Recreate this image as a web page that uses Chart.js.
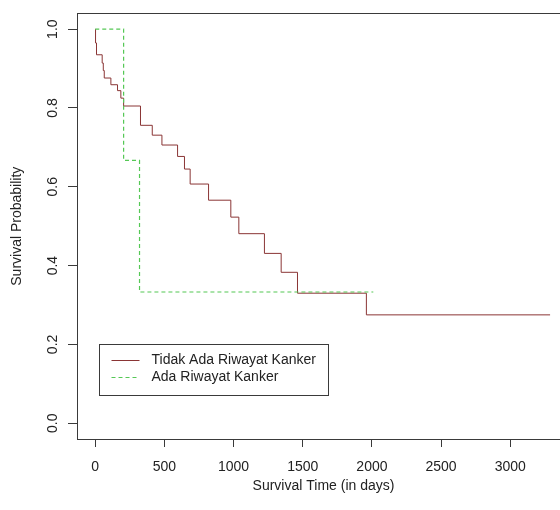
<!DOCTYPE html>
<html>
<head>
<meta charset="utf-8">
<title>Kaplan-Meier: Riwayat Kanker</title>
<script src="https://cdn.jsdelivr.net/npm/chart.js@4.4.1/dist/chart.umd.min.js"></script>
<style>
  html, body { margin: 0; padding: 0; background: #ffffff; overflow: hidden; }
  #wrap { width: 560px; height: 510px; overflow: hidden; position: relative; }
  #wrap canvas { display: block; }
</style>
</head>
<body>
<div id="wrap"><canvas id="km" width="600" height="510" style="width:600px;height:510px"></canvas></div>
<script>
// Kaplan-Meier survival estimates (time in days, survival probability)
const groupNames = ['Tidak Ada Riwayat Kanker', 'Ada Riwayat Kanker'];

const noHistoryTimes = [0, 2, 9, 50, 58, 65, 113, 161, 185, 205, 327, 412, 482, 595, 645, 686, 819, 980, 1038, 1223, 1344, 1462, 1960, 3288];
const noHistorySurv  = [1.000, 0.965, 0.935, 0.914, 0.895, 0.876, 0.859, 0.844, 0.825, 0.805, 0.756, 0.731, 0.706, 0.677, 0.645, 0.607, 0.566, 0.523, 0.481, 0.431, 0.383, 0.330, 0.275, 0.275];

const historyTimes = [0, 205, 320, 2010];
const historySurv  = [1.000, 0.667, 0.333, 0.333];

const timeTicks = [0, 500, 1000, 1500, 2000, 2500, 3000];
const probTicks = [0.0, 0.2, 0.4, 0.6, 0.8, 1.0];

const FONT = "'Liberation Sans', Arial, Helvetica, sans-serif";
const INK = '#222222';
const RED = '#8a3535';
const GREEN = '#55c855';

function toPoints(times, surv) {
  return times.map((t, i) => ({ x: t, y: surv[i] }));
}

// Plot frame drawn around the whole plotting region
const frame = {
  id: 'frame',
  afterDraw(chart) {
    const { ctx, chartArea: a } = chart;
    ctx.save();
    ctx.strokeStyle = '#3a3a3a';
    ctx.lineWidth = 1;
    ctx.strokeRect(Math.round(a.left) + 0.5, Math.round(a.top) + 0.5,
                   Math.round(a.right - a.left), Math.round(a.bottom - a.top));
    ctx.restore();
  }
};

// Boxed legend placed at a data coordinate inside the plot
const boxLegend = {
  id: 'boxLegend',
  afterDraw(chart, args, opts) {
    const { ctx, scales: { x, y } } = chart;
    const left = Math.round(x.getPixelForValue(opts.atX)) + 0.5;
    const top = Math.round(y.getPixelForValue(opts.atY)) + 0.5;
    const w = 229, rowH = 17, h = rowH * 3;
    ctx.save();
    ctx.fillStyle = '#ffffff';
    ctx.fillRect(left, top, w, h);
    ctx.strokeStyle = '#3a3a3a';
    ctx.lineWidth = 1;
    ctx.strokeRect(left, top, w, h);
    ctx.font = '14px ' + FONT;
    ctx.textBaseline = 'middle';
    ctx.textAlign = 'left';
    opts.items.forEach((idx, r) => {
      const ds = chart.data.datasets[idx];
      const cy = Math.round(top + rowH * (r + 1)) - 1.5;
      ctx.strokeStyle = ds.borderColor;
      ctx.setLineDash(ds.borderDash || []);
      ctx.beginPath();
      ctx.moveTo(left + 12, cy);
      ctx.lineTo(left + 40, cy);
      ctx.stroke();
      ctx.setLineDash([]);
      ctx.fillStyle = INK;
      ctx.fillText(ds.label, left + 52, cy);
    });
    ctx.restore();
  }
};

new Chart(document.getElementById('km'), {
  type: 'line',
  data: {
    datasets: [
      {
        label: groupNames[0],
        data: toPoints(noHistoryTimes, noHistorySurv),
        borderColor: RED,
        borderWidth: 1,
        stepped: 'before',
        pointRadius: 0,
        fill: false,
        order: 1
      },
      {
        label: groupNames[1],
        data: toPoints(historyTimes, historySurv),
        borderColor: GREEN,
        borderWidth: 1.2,
        borderDash: [4, 3],
        stepped: 'before',
        pointRadius: 0,
        fill: false,
        order: 0
      }
    ]
  },
  options: {
    responsive: false,
    animation: false,
    devicePixelRatio: 1,
    events: [],
    layout: { padding: { top: 7, right: 30, left: 0, bottom: 0 } },
    plugins: {
      legend: { display: false },
      tooltip: { enabled: false },
      boxLegend: { atX: 25, atY: 0.2, items: [0, 1] }
    },
    scales: {
      x: {
        type: 'linear',
        position: 'bottom',
        min: -132,
        max: 3432,
        afterBuildTicks(scale) { scale.ticks = timeTicks.map(v => ({ value: v })); },
        afterFit(scale) { scale.height = 71; },
        grid: { drawOnChartArea: false, drawTicks: true, tickLength: 8, tickColor: '#3a3a3a', lineWidth: 1 },
        border: { display: false },
        ticks: {
          color: INK,
          font: { family: FONT, size: 14 },
          padding: 12,
          maxRotation: 0,
          autoSkip: false,
          callback: v => String(v)
        },
        title: {
          display: true,
          text: 'Survival Time (in days)',
          color: INK,
          font: { family: FONT, size: 14 },
          padding: { top: 0, bottom: 15 }
        }
      },
      y: {
        type: 'linear',
        position: 'left',
        min: -0.04,
        max: 1.04,
        afterBuildTicks(scale) { scale.ticks = probTicks.map(v => ({ value: v })); },
        afterFit(scale) { scale.width = 77; },
        grid: { drawOnChartArea: false, drawTicks: true, tickLength: 9, tickColor: '#3a3a3a', lineWidth: 1 },
        border: { display: false },
        ticks: {
          color: INK,
          font: { family: FONT, size: 14 },
          padding: 5,
          minRotation: 90,
          maxRotation: 90,
          crossAlign: 'center',
          autoSkip: false,
          callback: v => Number(v).toFixed(1)
        },
        title: {
          display: true,
          text: 'Survival Probability',
          color: INK,
          font: { family: FONT, size: 14 },
          padding: { top: 9, bottom: 0 }
        }
      }
    }
  },
  plugins: [frame, boxLegend]
});
</script>
</body>
</html>
